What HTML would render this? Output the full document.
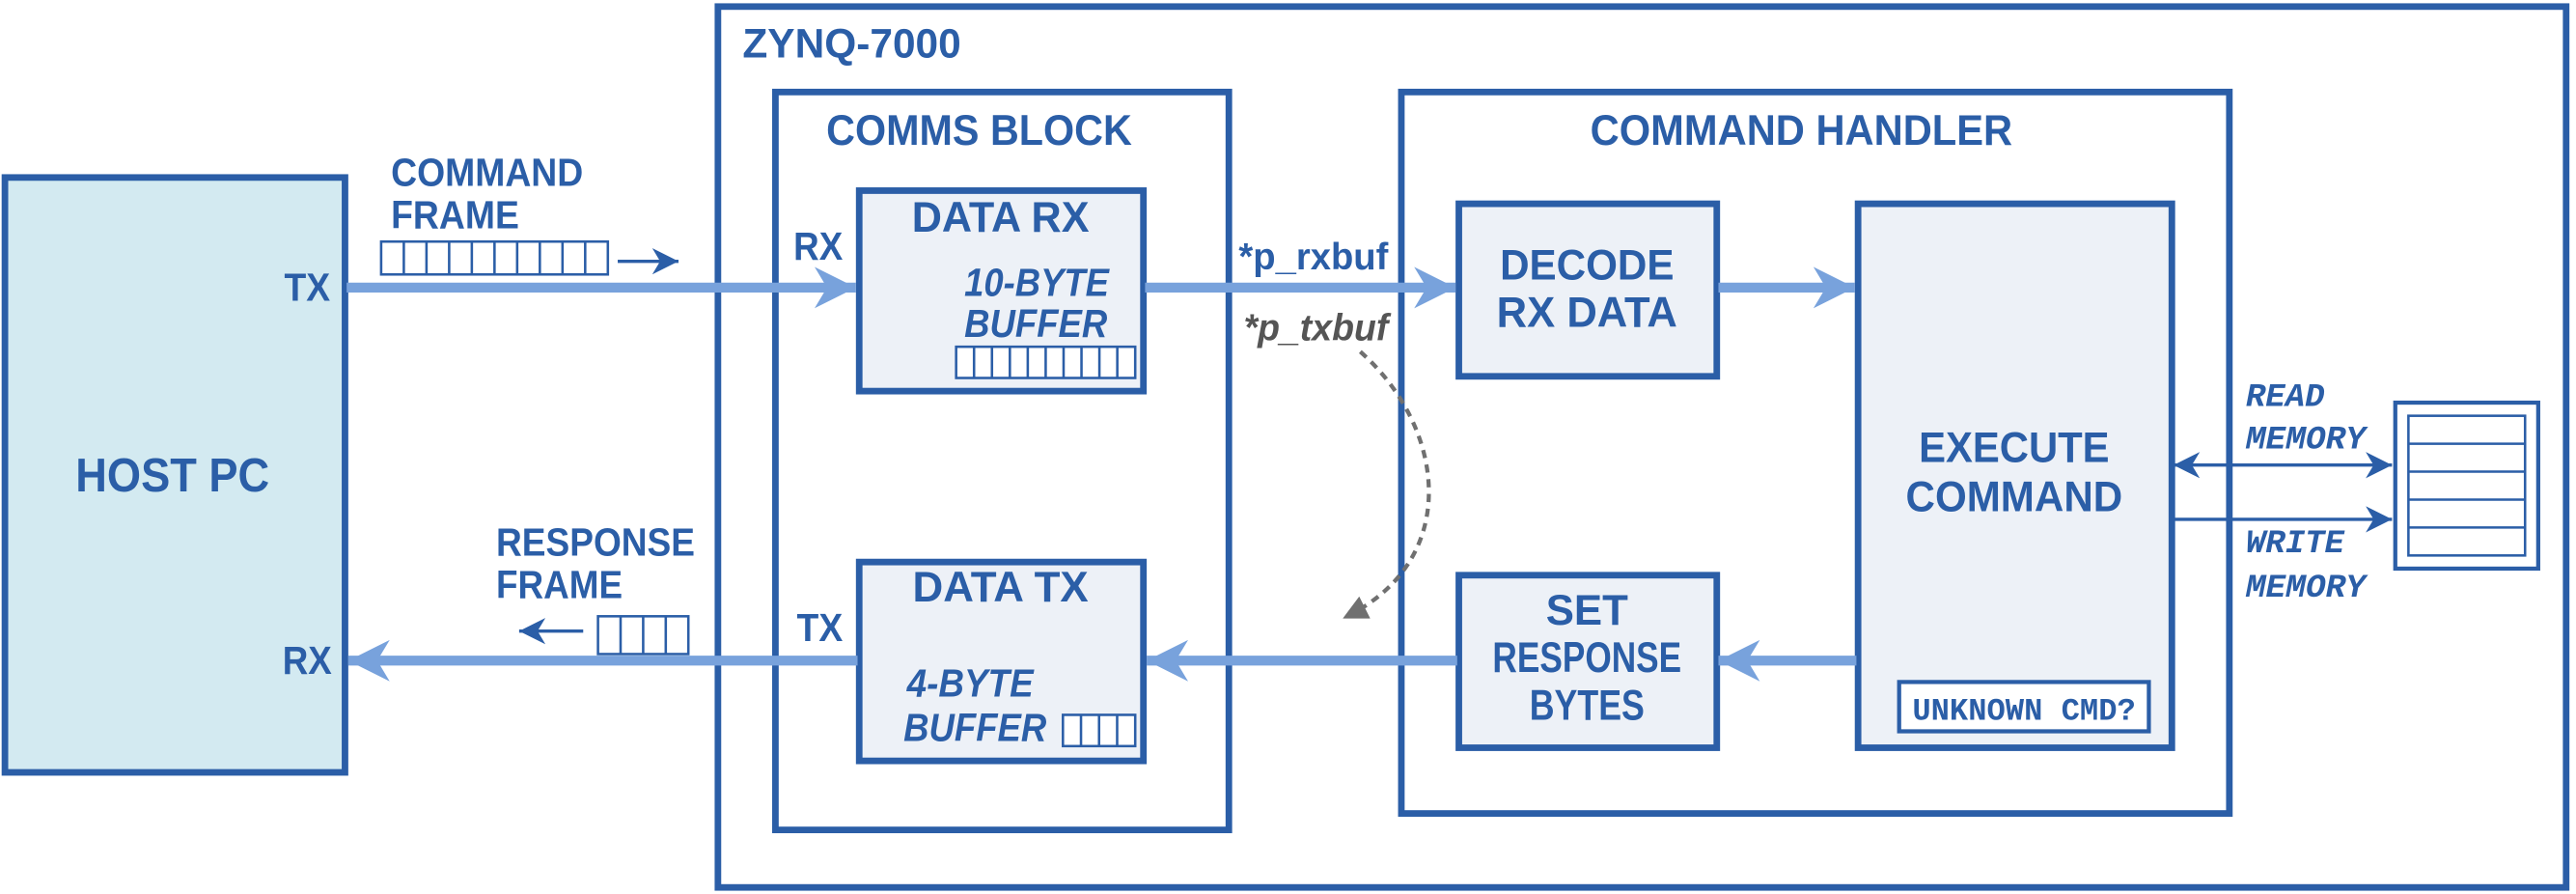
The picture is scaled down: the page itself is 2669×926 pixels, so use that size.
<!DOCTYPE html>
<html><head><meta charset="utf-8"><style>
html,body{margin:0;padding:0;background:#fff;}
svg{display:block;}
text{font-family:"Liberation Sans Narrow","Liberation Sans",sans-serif;font-weight:bold;fill:#2b5ea7;}
.m{font-family:"Liberation Mono","DejaVu Sans Mono",monospace;}
</style></head><body>
<svg width="2669" height="926" viewBox="0 0 1568 544" preserveAspectRatio="none" xmlns="http://www.w3.org/2000/svg">
<defs>
<marker id="ah" viewBox="0 0 10 10" refX="10" refY="5" markerWidth="4.2" markerHeight="4.6" orient="auto" markerUnits="strokeWidth"><path d="M0,0 L10,5 L0,10 L3,5 Z" fill="#78a2dc"/></marker>
<marker id="sh" viewBox="0 0 10 10" refX="10" refY="5" markerWidth="8" markerHeight="8" orient="auto-start-reverse" markerUnits="strokeWidth"><path d="M0,0 L10,5 L0,10 L3,5 Z" fill="#2b5ea7"/></marker>
<marker id="gh" viewBox="0 0 10 10" refX="8" refY="5" markerWidth="6" markerHeight="6" orient="auto" markerUnits="strokeWidth"><path d="M0,0 L10,5 L0,10 Z" fill="#707070"/></marker>
</defs>
<g stroke="#2b5ea7" stroke-width="4" fill="none">
<rect x="3" y="108" width="207" height="362" fill="#d3eaf1"/>
<rect x="437" y="4" width="1125" height="536"/>
<rect x="472" y="56" width="276" height="449"/>
<rect x="853" y="56" width="504" height="439"/>
<rect x="523" y="116" width="173" height="122" fill="#edf1f7"/>
<rect x="523" y="342" width="173" height="121" fill="#edf1f7"/>
<rect x="888" y="124" width="157" height="105" fill="#edf1f7"/>
<rect x="888" y="350" width="157" height="105" fill="#edf1f7"/>
<rect x="1131" y="124" width="191" height="331" fill="#edf1f7"/>
<rect x="1156" y="415" width="152" height="30" fill="#fff" stroke-width="2.5"/>
<rect x="1458" y="245" width="87" height="101" stroke-width="2.5"/>
</g>
<g stroke="#2b5ea7" stroke-width="1.5" fill="#fff">
<rect x="232" y="147" width="138" height="20"/>
<path d="M245.8,147V167M259.6,147V167M273.4,147V167M287.2,147V167M301,147V167M314.8,147V167M328.6,147V167M342.4,147V167M356.2,147V167"/>
<rect x="582" y="211" width="109" height="19"/>
<path d="M592.9,211V230M603.8,211V230M614.7,211V230M625.6,211V230M636.5,211V230M647.4,211V230M658.3,211V230M669.2,211V230M680.1,211V230"/>
<rect x="364" y="375" width="55" height="23"/>
<path d="M377.75,375V398M391.5,375V398M405.25,375V398"/>
<rect x="647" y="435" width="44" height="19"/>
<path d="M658,435V454M669,435V454M680,435V454"/>
<rect x="1466" y="253" width="71" height="85"/>
<path d="M1466,270H1537M1466,287H1537M1466,304H1537M1466,321H1537"/>
</g>
<g stroke="#78a2dc" stroke-width="6" fill="none" marker-end="url(#ah)">
<line x1="211" y1="175" x2="521" y2="175"/>
<line x1="697" y1="175" x2="886" y2="175"/>
<line x1="1046" y1="175" x2="1129" y2="175"/>
<line x1="1130" y1="402" x2="1046" y2="402"/>
<line x1="887" y1="402" x2="698" y2="402"/>
<line x1="522" y1="402" x2="212" y2="402"/>
</g>
<g stroke="#2b5ea7" stroke-width="2" fill="none">
<line x1="376" y1="159" x2="413" y2="159" marker-end="url(#sh)"/>
<line x1="355" y1="384" x2="316" y2="384" marker-end="url(#sh)"/>
<line x1="1323" y1="283" x2="1456" y2="283" marker-start="url(#sh)" marker-end="url(#sh)"/>
<line x1="1323" y1="316" x2="1456" y2="316" marker-end="url(#sh)"/>
</g>
<path d="M828,214 C880,260 890,340 820,375" stroke="#707070" stroke-width="2.5" stroke-dasharray="5,4" fill="none" marker-end="url(#gh)"/>
<text x="105" y="299" font-size="29" text-anchor="middle" textLength="118" lengthAdjust="spacingAndGlyphs">HOST PC</text>
<text x="173" y="183" font-size="24" textLength="28" lengthAdjust="spacingAndGlyphs">TX</text>
<text x="172" y="410" font-size="24" textLength="30" lengthAdjust="spacingAndGlyphs">RX</text>
<text x="452" y="35" font-size="25" textLength="133" lengthAdjust="spacingAndGlyphs">ZYNQ-7000</text>
<text x="503" y="88" font-size="26" textLength="186" lengthAdjust="spacingAndGlyphs">COMMS BLOCK</text>
<text x="968" y="88" font-size="26" textLength="257" lengthAdjust="spacingAndGlyphs">COMMAND HANDLER</text>
<text x="238" y="113" font-size="24" textLength="117" lengthAdjust="spacingAndGlyphs">COMMAND</text>
<text x="238" y="139" font-size="24" textLength="78" lengthAdjust="spacingAndGlyphs">FRAME</text>
<text x="302" y="338" font-size="24" textLength="121" lengthAdjust="spacingAndGlyphs">RESPONSE</text>
<text x="302" y="364" font-size="24" textLength="77" lengthAdjust="spacingAndGlyphs">FRAME</text>
<text x="483" y="158" font-size="24" textLength="30" lengthAdjust="spacingAndGlyphs">RX</text>
<text x="485" y="390" font-size="24" textLength="28" lengthAdjust="spacingAndGlyphs">TX</text>
<text x="609" y="141" font-size="26" text-anchor="middle" textLength="108" lengthAdjust="spacingAndGlyphs">DATA RX</text>
<text x="609" y="366" font-size="26" text-anchor="middle" textLength="107" lengthAdjust="spacingAndGlyphs">DATA TX</text>
<text x="587" y="180" font-size="24" font-style="italic" font-weight="normal" textLength="88" lengthAdjust="spacingAndGlyphs">10-BYTE</text>
<text x="587" y="205" font-size="24" font-style="italic" font-weight="normal" textLength="87" lengthAdjust="spacingAndGlyphs">BUFFER</text>
<text x="552" y="424" font-size="24" font-style="italic" font-weight="normal" textLength="77" lengthAdjust="spacingAndGlyphs">4-BYTE</text>
<text x="550" y="451" font-size="24" font-style="italic" font-weight="normal" textLength="87" lengthAdjust="spacingAndGlyphs">BUFFER</text>
<text x="754" y="164" font-size="23" textLength="91" lengthAdjust="spacingAndGlyphs">*p_rxbuf</text>
<text x="757" y="207" font-size="23" font-style="italic" style="fill:#555" textLength="88" lengthAdjust="spacingAndGlyphs">*p_txbuf</text>
<text x="966" y="170" font-size="26" text-anchor="middle" textLength="106" lengthAdjust="spacingAndGlyphs">DECODE</text>
<text x="966" y="199" font-size="26" text-anchor="middle" textLength="110" lengthAdjust="spacingAndGlyphs">RX DATA</text>
<text x="1226" y="281" font-size="26" text-anchor="middle" textLength="116" lengthAdjust="spacingAndGlyphs">EXECUTE</text>
<text x="1226" y="311" font-size="26" text-anchor="middle" textLength="132" lengthAdjust="spacingAndGlyphs">COMMAND</text>
<text x="966" y="380" font-size="26" text-anchor="middle" textLength="50" lengthAdjust="spacingAndGlyphs">SET</text>
<text x="966" y="409" font-size="26" text-anchor="middle" textLength="115" lengthAdjust="spacingAndGlyphs">RESPONSE</text>
<text x="966" y="438" font-size="26" text-anchor="middle" textLength="70" lengthAdjust="spacingAndGlyphs">BYTES</text>
<text class="m" x="1164" y="438" font-size="19" font-weight="normal" textLength="136" lengthAdjust="spacingAndGlyphs">UNKNOWN CMD?</text>
<text class="m" x="1367" y="247" font-size="20" font-style="italic" font-weight="normal" textLength="48" lengthAdjust="spacingAndGlyphs">READ</text>
<text class="m" x="1367" y="273" font-size="20" font-style="italic" font-weight="normal" textLength="73" lengthAdjust="spacingAndGlyphs">MEMORY</text>
<text class="m" x="1367" y="336" font-size="20" font-style="italic" font-weight="normal" textLength="60" lengthAdjust="spacingAndGlyphs">WRITE</text>
<text class="m" x="1367" y="363" font-size="20" font-style="italic" font-weight="normal" textLength="73" lengthAdjust="spacingAndGlyphs">MEMORY</text>
</svg>
</body></html>
